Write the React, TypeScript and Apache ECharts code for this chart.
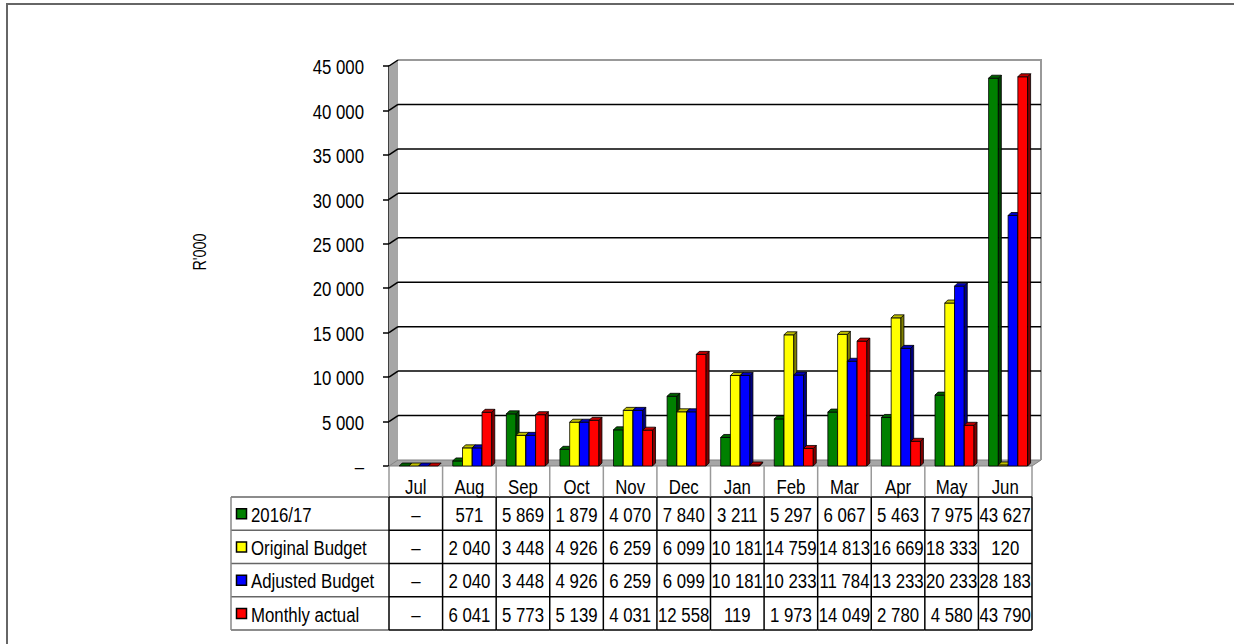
import React, { useEffect, useRef } from "react";
import * as echarts from "echarts";

const categories = ["Jul", "Aug", "Sep", "Oct", "Nov", "Dec", "Jan", "Feb", "Mar", "Apr", "May", "Jun"];
const seriesNames = ["2016/17", "Original Budget", "Adjusted Budget", "Monthly actual"];
const actual1617 = [0, 571, 5869, 1879, 4070, 7840, 3211, 5297, 6067, 5463, 7975, 43627];
const originalBudget = [0, 2040, 3448, 4926, 6259, 6099, 10181, 14759, 14813, 16669, 18333, 120];
const adjustedBudget = [0, 2040, 3448, 4926, 6259, 6099, 10181, 10233, 11784, 13233, 20233, 28183];
const monthlyActual = [0, 6041, 5773, 5139, 4031, 12558, 119, 1973, 14049, 2780, 4580, 43790];
const yTickValues = [0, 5000, 10000, 15000, 20000, 25000, 30000, 35000, 40000, 45000];
const gridValues = [5000, 10000, 15000, 20000, 25000, 30000, 35000, 40000];
const yAxisName = "R'000";

const allSeries = [actual1617, originalBudget, adjustedBudget, monthlyActual];
const frontColors = ["#008000", "#FFFF00", "#0000FF", "#FF0000"];
const sideColors = ["#004000", "#808000", "#000080", "#800000"];
const topColors = ["#006000", "#C0C000", "#0000C0", "#C00000"];

const FONT = '"Liberation Sans", Arial, sans-serif';
const NARROW = 0.8;
const FS = 21;
const DX = 9;
const DY = 6;
const BD = 3;
const HEADER_H = 31;
const ROW_H = 33.25;

function fmt(v: number): string {
  if (v === 0) return "–";
  return String(v).replace(/\B(?=(\d{3})+(?!\d))/g, " ");
}

function txt(text: string, x: number, y: number, align: string, size = FS, rotation = 0) {
  return {
    type: "text",
    x,
    y,
    scaleX: NARROW,
    rotation,
    style: {
      text,
      x: 0,
      y: 0,
      align,
      textAlign: align,
      verticalAlign: "middle",
      textVerticalAlign: "middle",
      fontSize: size,
      fontFamily: FONT,
      fill: "#000",
    },
  };
}

export default function App() {
  const ref = useRef<HTMLDivElement>(null);
  useEffect(() => {
    if (!ref.current) return;
    const chart = echarts.init(ref.current, undefined, { renderer: "svg" });

    const wallsItem = (params: any, api: any) => {
      const cs = params.coordSys;
      const x0 = cs.x, y0 = cs.y, w = cs.width, h = cs.height;
      const base = y0 + h;
      return {
        type: "group",
        children: [
          {
            type: "polygon",
            shape: { points: [[x0, base], [x0, y0], [x0 + DX, y0 - DY], [x0 + DX, base - DY]] },
            style: { fill: "#a6a6a6", stroke: "none" },
          },
          {
            type: "polygon",
            shape: { points: [[x0, base], [x0 + w, base], [x0 + w + DX, base - DY], [x0 + DX, base - DY]] },
            style: { fill: "#a6a6a6", stroke: "#808080", lineWidth: 1 },
          },
          {
            type: "polyline",
            shape: { points: [[x0 + DX, y0 - DY], [x0 + w + DX, y0 - DY], [x0 + w + DX, base - DY]] },
            style: { fill: "none", stroke: "#999999", lineWidth: 2 },
          },
          {
            type: "line",
            shape: { x1: x0, y1: y0, x2: x0 + DX, y2: y0 - DY },
            style: { stroke: "#000", lineWidth: 1.5 },
          },
        ],
      };
    };

    const gridItem = (params: any, api: any) => {
      const cs = params.coordSys;
      const x0 = cs.x, w = cs.width;
      const y = api.coord([0, api.value(1)])[1];
      return {
        type: "group",
        children: [
          { type: "line", shape: { x1: x0, y1: y, x2: x0 + DX, y2: y - DY }, style: { stroke: "#000", lineWidth: 1.5 } },
          { type: "line", shape: { x1: x0 + DX, y1: y - DY, x2: x0 + w + DX, y2: y - DY }, style: { stroke: "#000", lineWidth: 1.5 } },
        ],
      };
    };

    const yLabelItem = (params: any, api: any) => {
      const cs = params.coordSys;
      const v = api.value(1);
      const y = api.coord([0, v])[1];
      return txt(fmt(v), cs.x - 25, y + 1, "right");
    };

    const barItem = (k: number) => (params: any, api: any) => {
      const i = api.value(0);
      const v = api.value(1);
      const top = api.coord([i, v]);
      const base = api.coord([i, 0]);
      const bw = api.size([1, 0])[0];
      const left = top[0] - bw / 2;
      const w = bw * 0.182;
      const x = left + bw * 0.19 + k * w;
      const yt = top[1];
      const yb = base[1];
      const st = { stroke: "#000", lineWidth: 0.8 };
      const children: any[] = [];
      if (yb - yt > 0.5) {
        children.push({ type: "rect", shape: { x, y: yt, width: w, height: yb - yt }, style: { ...st, fill: frontColors[k] } });
        children.push({
          type: "polygon",
          shape: { points: [[x + w, yb], [x + w + BD, yb - BD], [x + w + BD, yt - BD], [x + w, yt]] },
          style: { ...st, fill: sideColors[k] },
        });
      }
      children.push({
        type: "polygon",
        shape: { points: [[x, yt], [x + BD, yt - BD], [x + w + BD, yt - BD], [x + w, yt]] },
        style: { ...st, fill: topColors[k] },
      });
      return { type: "group", children };
    };

    const tableItem = (params: any, api: any) => {
      const i = api.value(0);
      const c = api.coord([i, 0]);
      const bw = api.size([1, 0])[0];
      const left = c[0] - bw / 2;
      const right = c[0] + bw / 2;
      const base = c[1];
      const rowTop = base + HEADER_H;
      const bottom = rowTop + ROW_H * 4;
      const last = i === categories.length - 1;
      const children: any[] = [];
      children.push({ type: "line", shape: { x1: left, y1: base, x2: left, y2: rowTop }, style: { stroke: "#999", lineWidth: 1.5 } });
      if (last) children.push({ type: "line", shape: { x1: right, y1: base, x2: right, y2: rowTop }, style: { stroke: "#999", lineWidth: 1.5 } });
      children.push(txt(categories[i], c[0], base + 21, "center"));
      children.push({ type: "line", shape: { x1: left, y1: rowTop, x2: left, y2: bottom }, style: { stroke: "#000", lineWidth: 1.5 } });
      if (last) children.push({ type: "line", shape: { x1: right, y1: rowTop, x2: right, y2: bottom }, style: { stroke: "#000", lineWidth: 1.5 } });
      for (let r = 0; r <= 4; r++) {
        const y = rowTop + r * ROW_H;
        children.push({ type: "line", shape: { x1: left, y1: y, x2: right, y2: y }, style: { stroke: "#000", lineWidth: 1.5 } });
      }
      for (let r = 0; r < 4; r++) {
        children.push(txt(fmt(allSeries[r][i]), c[0], rowTop + r * ROW_H + ROW_H / 2 + 1, "center"));
      }
      return { type: "group", children };
    };

    const gridLeft = 389;
    const gridTop = 66;
    const gridH = 400;
    const legendLeft = 231;
    const legendTop = gridTop + gridH + HEADER_H;
    const legendGraphics: any[] = [];
    for (let r = 0; r <= 4; r++) {
      legendGraphics.push({
        type: "line",
        shape: { x1: legendLeft, y1: legendTop + r * ROW_H, x2: gridLeft, y2: legendTop + r * ROW_H },
        style: { stroke: "#666", lineWidth: 1.5 },
      });
    }
    legendGraphics.push({
      type: "line",
      shape: { x1: legendLeft, y1: legendTop, x2: legendLeft, y2: legendTop + 4 * ROW_H },
      style: { stroke: "#888", lineWidth: 1.5 },
    });
    for (let r = 0; r < 4; r++) {
      const cy = legendTop + r * ROW_H + ROW_H / 2;
      legendGraphics.push({
        type: "rect",
        shape: { x: 236.5, y: cy - 5, width: 10, height: 10 },
        style: { fill: frontColors[r], stroke: "#000", lineWidth: 1.5 },
      });
      legendGraphics.push(txt(seriesNames[r], 251, cy + 1, "left"));
    }

    const option: any = {
      animation: false,
      backgroundColor: "#fff",
      grid: { left: gridLeft, top: gridTop, width: 643, height: gridH, containLabel: false },
      xAxis: {
        type: "category",
        data: categories,
        axisLine: { show: false },
        axisTick: { show: false },
        axisLabel: { show: false },
        splitLine: { show: false },
      },
      yAxis: {
        type: "value",
        min: 0,
        max: 45000,
        interval: 5000,
        axisLine: { show: true, lineStyle: { color: "#000", width: 1.5 } },
        axisTick: { show: true, length: 6, lineStyle: { color: "#000", width: 1.5 } },
        axisLabel: { show: false },
        splitLine: { show: false },
      },
      graphic: [
        {
          type: "polyline",
          shape: { points: [[7, 700], [7, 4], [1300, 4]] },
          style: { fill: "none", stroke: "#666", lineWidth: 2 },
        },
        txt(yAxisName, 199, 252, "center", 18, Math.PI / 2),
        ...legendGraphics,
      ],
      series: [
        { type: "custom", name: "walls", renderItem: wallsItem, data: [[0, 0]], z: 1, silent: true },
        { type: "custom", name: "grid", renderItem: gridItem, data: gridValues.map((v) => [0, v]), z: 2, silent: true },
        { type: "custom", name: "ylabels", renderItem: yLabelItem, data: yTickValues.map((v) => [0, v]), z: 2, silent: true, clip: false },
        ...allSeries.map((vals, k) => ({
          type: "custom",
          name: seriesNames[k],
          renderItem: barItem(k),
          data: vals.map((v, i) => [i, v]),
          z: 3,
        })),
        {
          type: "custom",
          name: "table",
          renderItem: tableItem,
          data: categories.map((c, i) => [i, 0]),
          z: 4,
          clip: false,
        },
      ],
    };
    chart.setOption(option);
    return () => chart.dispose();
  }, []);
  return <div ref={ref} style={{ position: "absolute", left: 0, top: 0, width: 1234, height: 644 }} />;
}
